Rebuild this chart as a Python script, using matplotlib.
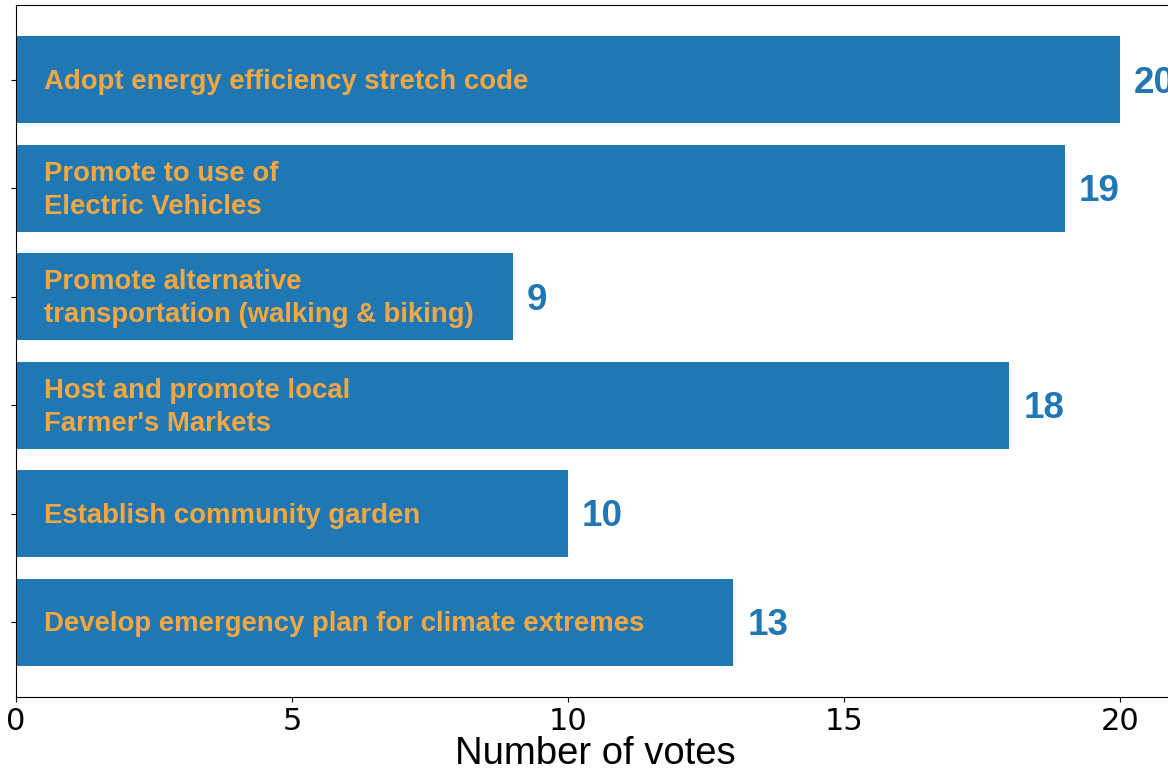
import matplotlib
matplotlib.use('Agg')
import matplotlib.pyplot as plt

# Survey results
actions = [
    'Adopt energy efficiency stretch code',
    'Promote to use of\nElectric Vehicles',
    'Promote alternative\ntransportation (walking & biking)',
    'Host and promote local\nFarmer\'s Markets',
    'Establish community garden',
    'Develop emergency plan for climate extremes',
]
votes = [20, 19, 9, 18, 10, 13]

bar_color = '#1f77b4'
text_color = '#f5a842'

W, H = 1168, 773
fig = plt.figure(figsize=(W / 100, H / 100), dpi=100)
# axes runs a little past the right edge, like the original screenshot
ax = fig.add_axes([16 / W, 76 / H, 1159 / W, 692 / H])

y = range(len(actions))
ax.barh(y, votes, height=0.8, color=bar_color)
ax.invert_yaxis()
ax.set_xlim(0, 21)

for i, (name, v) in enumerate(zip(actions, votes)):
    ax.text(0.5, i + 0.02, name, ha='left', va='center', color=text_color,
            fontsize=19.8, fontweight='bold', family='Liberation Sans',
            linespacing=1.35)
    ax.text(v + 0.25, i + 0.03, str(v), ha='left', va='center', color=bar_color,
            fontsize=26.5, fontweight='bold', family='Liberation Sans')

ax.set_yticks(list(y))
ax.set_yticklabels([])
ax.set_xticks([0, 5, 10, 15, 20])
ax.tick_params(axis='x', labelsize=22)
ax.set_xlabel('Number of votes', fontsize=27.5, family='Liberation Sans', labelpad=0)

fig.savefig('out.png', dpi=100)
